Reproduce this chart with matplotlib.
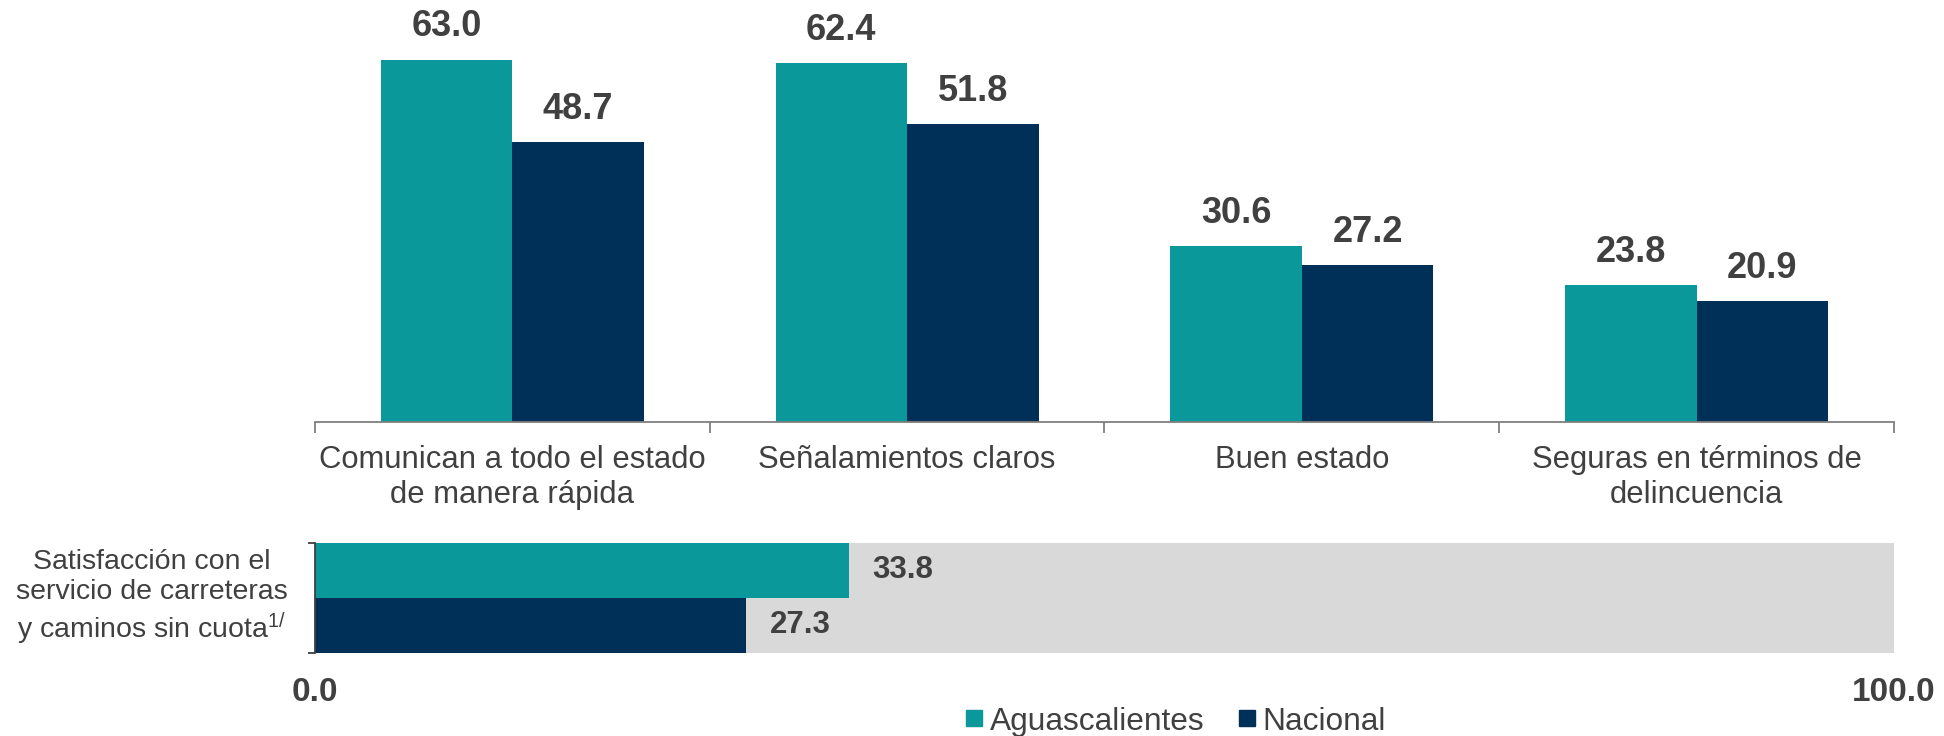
import matplotlib
matplotlib.use("Agg")
import matplotlib.pyplot as plt
from matplotlib.lines import Line2D
import matplotlib.transforms as mtransforms
import numpy as np

plt.rcParams['font.family'] = ['Liberation Sans', 'DejaVu Sans']
plt.rcParams['mathtext.fontset'] = 'custom'
plt.rcParams['mathtext.rm'] = 'Liberation Sans'
plt.rcParams['mathtext.it'] = 'Liberation Sans'

categories = ["Comunican a todo el estado\nde manera rápida",
              "Señalamientos claros",
              "Buen estado",
              "Seguras en términos de\ndelincuencia"]
aguascalientes = [63.0, 62.4, 30.6, 23.8]
nacional = [48.7, 51.8, 27.2, 20.9]

sat_label = "Satisfacción con el\nservicio de carreteras\ny caminos sin cuota$^{1/}$"
sat_aguascalientes = 33.8
sat_nacional = 27.3
sat_max = 100.0
series_names = ["Aguascalientes", "Nacional"]

TEAL = "#0A989A"
NAVY = "#003057"
GRAY_BG = "#D9D9D9"
TXT = "#404040"
AXC = "#7F7F7F"

fig = plt.figure(figsize=(19.44, 7.36), dpi=100)

# ---- top grouped bars ----
ax = fig.add_axes([0.1620, 0.4273, 0.8123, 0.5727])
n = len(categories)
centers = np.arange(n) + 0.5
w = 1 / 3
b1 = ax.bar(centers - w / 2, aguascalientes, width=w, color=TEAL)
b2 = ax.bar(centers + w / 2, nacional, width=w, color=NAVY)
for bars, vals in ((b1, aguascalientes), (b2, nacional)):
    for r, v in zip(bars, vals):
        ax.annotate(f"{v:.1f}", (r.get_x() + r.get_width() / 2, v),
                    xytext=(0, 11), textcoords="offset points",
                    ha="center", va="bottom", fontsize=26, fontweight="bold",
                    color=TXT)
ax.set_xlim(0, n)
ax.set_ylim(0, 73.4)
for s in ("top", "right", "left"):
    ax.spines[s].set_visible(False)
ax.spines["bottom"].set_color(AXC)
ax.spines["bottom"].set_linewidth(1.3)
ax.set_yticks([])
ax.set_xticks(np.arange(n + 1))
ax.set_xticklabels([])
ax.tick_params(axis="x", which="major", direction="out", length=8, width=1.3, color=AXC)
ax.set_xticks(centers, minor=True)
ax.set_xticklabels(categories, minor=True, fontsize=22.3, color=TXT)
ax.tick_params(axis="x", which="minor", length=0, pad=17)

# ---- bottom satisfaction bar ----
bx = fig.add_axes([0.1620, 0.1128, 0.8123, 0.1495])
bx.barh(0.5, sat_max, height=2.0, color=GRAY_BG)
bx.barh(1, sat_aguascalientes, height=1.0, color=TEAL)
bx.barh(0, sat_nacional, height=1.0, color=NAVY)
for y, v in ((1, sat_aguascalientes), (0, sat_nacional)):
    bx.annotate(f"{v:.1f}", (v, y), xytext=(17, 0), textcoords="offset points",
                ha="left", va="center", fontsize=22.5, fontweight="bold", color=TXT)
bx.set_xlim(0, sat_max)
bx.set_ylim(-0.5, 1.5)
for s in ("top", "right", "bottom"):
    bx.spines[s].set_visible(False)
bx.spines["left"].set_color("#404040")
bx.spines["left"].set_linewidth(1.3)
bx.set_yticks([-0.5, 1.5])
bx.set_yticklabels([])
bx.tick_params(axis="y", direction="out", length=5, width=1.3, color="#404040")
bx.set_xticks([0, sat_max])
bx.set_xticklabels(["0.0", "100.0"], fontsize=24, fontweight="bold", color=TXT)
bx.tick_params(axis="x", length=0, pad=17)
lab_tr = mtransforms.blended_transform_factory(fig.transFigure, bx.transAxes)
bx.text(152 / 1944, 0.5, sat_label, transform=lab_tr, fontsize=20.5,
        color=TXT, ha="center", va="center", linespacing=1.2)

# ---- legend ----
handles = [Line2D([], [], marker="s", linestyle="none", markersize=11, color=c)
           for c in (TEAL, NAVY)]
fig.legend(handles, series_names, loc="center", bbox_to_anchor=(0.6045, 0.0197),
           ncol=2, frameon=False, fontsize=22.8, handlelength=0.6, handletextpad=0.2,
           columnspacing=1.05, labelcolor=TXT, borderaxespad=0, borderpad=0)

fig.savefig("out.png", dpi=100)
